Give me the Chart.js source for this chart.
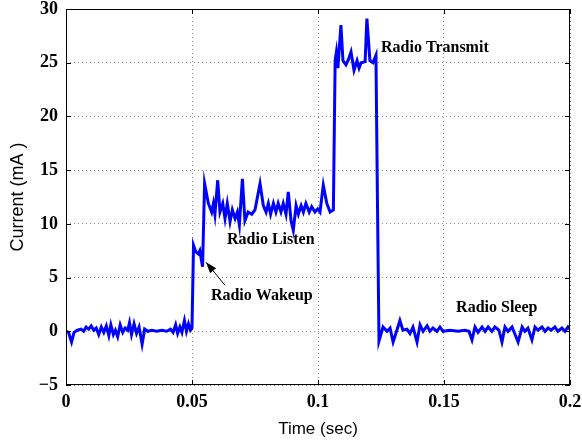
<!DOCTYPE html>
<html>
<head>
<meta charset="utf-8">
<script src="https://cdn.jsdelivr.net/npm/chart.js@4"></script>
<style>
  html, body { margin: 0; background: #fff; }
  #wrap { width: 582px; height: 445px; }
</style>
</head>
<body>
<div id="wrap"><canvas id="chart"></canvas></div>
<script>
// samples: time in ms, current in mA
const timeMs = [
  0, 1.0, 2.2, 3.2, 4.5, 6, 7, 8, 9, 10, 11, 12, 13, 14, 15, 16, 17, 17.8, 18.8, 19.6,
  20.5, 21.5, 22.5, 23.5, 24.5, 25.2, 26, 27, 28, 29, 30.2, 31.2, 32.5, 34, 36, 38, 40, 41.5, 42.5, 43.5,
  44.3, 45.2, 46, 47, 47.8, 48.6, 49.4, 50.0, 50.6, 51.5, 52.5, 53.1, 54.2, 54.5, 55.0, 56.5, 57.8, 58.5, 59.1, 60.2,
  61.1, 62.2, 63.1, 64.0, 65.1, 66.0, 67.1, 68.0, 68.8, 70.0, 71.0, 72.3, 73.7, 75.0, 77.0, 78.3, 79.4, 80.3, 81.2, 82.3,
  83.3, 84.2, 85.3, 86.2, 87.3, 88.2, 89.3, 90.2, 91.3, 92.2, 93.3, 94.2, 95.2, 96.5, 97.5, 98.8, 99.9, 100.8, 102.1, 103.5,
  104.8, 106.1, 106.8, 107.3, 107.9, 109.1, 109.9, 111.1, 112.1, 113.1, 114.3, 115.5, 116.3, 117.1, 118.7, 119.4, 120.6, 121.8, 123.0, 123.6,
  124.2, 125.8, 127.4, 128.6, 129.8, 131.3, 132.5, 133.7, 135.3, 136.5, 137.7, 139.3, 140.5, 141.7, 143.3, 144.4, 145.6, 147.2, 148.4, 149.6,
  152.4, 155.6, 158.3, 159.9, 161.1, 162.3, 163.5, 165.1, 166.3, 167.5, 169.0, 170.2, 171.8, 173.0, 174.2, 175.4, 177.0, 178.2, 179.4, 181.0,
  182.1, 183.3, 184.9, 186.1, 187.3, 188.9, 190.1, 191.3, 192.5, 194.0, 195.2, 196.8, 198.0, 199.2, 200
];
const currentMA = [
  0.0, -0.1, -1.0, -0.1, 0.1, 0.2, 0.0, 0.4, 0.2, 0.5, 0.1, 0.3, -0.3, 0.4, -0.1, 0.5, -0.4, 0.6, -0.3, 0.1,
  -0.5, 0.6, -0.1, 0.3, 0.1, 0.8, -0.3, 0.7, -0.2, 0.4, -1.2, 0.2, 0.0, 0.1, 0.0, 0.1, 0.0, 0.2, -0.1, 0.6,
  -0.2, 0.4, -0.1, 1.0, 0.0, 0.7, 0.1, 0.3, 8.0, 7.4, 7.2, 7.5, 6.0, 9.0, 13.75, 11.9, 11.1, 11.9, 10.9, 14.06,
  11.1, 11.9, 10.5, 11.9, 10.2, 11.3, 10.5, 11.1, 9.9, 14.2, 10.3, 11.1, 10.9, 11.3, 13.75, 11.7, 11.1, 11.9, 10.9, 11.9,
  11.1, 11.9, 11.1, 11.9, 10.9, 12.97, 10.3, 9.4, 11.7, 10.9, 11.7, 11.1, 11.9, 11.1, 11.6, 11.1, 11.4, 11.1, 13.6, 11.9,
  11.1, 11.3, 25.2, 26.0, 24.5, 28.5, 25.2, 24.8, 25.3, 26.0, 24.3, 25.2, 24.5, 25.0, 25.1, 29.1, 25.2, 25.0, 25.7, 12.0,
  -0.9, 0.4, 0.0, 0.3, -1.0, 0.1, 1.0, 0.1, 0.2, -0.2, 0.4, -1.0, 0.6, 0.0, 0.5, 0.0, 0.3, 0.0, 0.4, 0.0,
  0.1, 0.0, 0.1, 0.0, -0.8, 0.4, -0.1, 0.4, 0.0, 0.4, 0.0, 0.4, 0.1, -1.0, 0.4, 0.0, 0.4, -0.3, -1.0, 0.4,
  0.0, 0.3, -0.8, 0.4, 0.1, 0.4, 0.0, 0.3, 0.1, 0.4, 0.0, 0.3, 0.0, 0.4, 0.2
];
const xTicks = [0, 0.05, 0.1, 0.15, 0.2];
const xTickLabels = ["0", "0.05", "0.1", "0.15", "0.2"];
const yTicks = [-5, 0, 5, 10, 15, 20, 25, 30];
const yTickLabels = ["\u22125", "0", "5", "10", "15", "20", "25", "30"];

// text notes, anchored in data units (sec, mA): left edge, vertical middle
const notes = [
  { text: "Radio Transmit", t: 0.125, v: 26.4 },
  { text: "Radio Listen", t: 0.0639, v: 8.47 },
  { text: "Radio Wakeup", t: 0.0575, v: 3.26 },
  { text: "Radio Sleep", t: 0.1548, v: 2.14 }
];
const wakeArrow = { from: [0.0631, 4.28], to: [0.0556, 6.42] };

const points = timeMs.map((t, i) => ({ x: t / 1000, y: currentMA[i] }));

const serif = "'Liberation Serif', 'Times New Roman', serif";
const sans = "'Liberation Sans', Arial, sans-serif";

const frame = {
  id: "frame",
  afterDatasetsDraw(chart) {
    const ctx = chart.ctx;
    const a = chart.chartArea;
    const xs = chart.scales.x, ys = chart.scales.y;
    ctx.save();
    ctx.strokeStyle = "#000";
    ctx.lineWidth = 1;
    ctx.strokeRect(a.left + 0.5, a.top + 0.5, a.right - a.left - 1, a.bottom - a.top - 1);
    ctx.beginPath();
    xTicks.forEach(v => {
      const px = Math.round(xs.getPixelForValue(v)) + 0.5;
      ctx.moveTo(px, a.bottom); ctx.lineTo(px, a.bottom - 5);
      ctx.moveTo(px, a.top); ctx.lineTo(px, a.top + 5);
    });
    yTicks.forEach(v => {
      const py = Math.round(ys.getPixelForValue(v)) + 0.5;
      ctx.moveTo(a.left, py); ctx.lineTo(a.left + 5, py);
      ctx.moveTo(a.right, py); ctx.lineTo(a.right - 5, py);
    });
    ctx.stroke();

    ctx.fillStyle = "#000";
    ctx.font = "bold 16px " + serif;
    ctx.textBaseline = "middle";
    ctx.textAlign = "left";
    notes.forEach(n => {
      ctx.fillText(n.text, xs.getPixelForValue(n.t), ys.getPixelForValue(n.v));
    });

    const x1 = xs.getPixelForValue(wakeArrow.from[0]), y1 = ys.getPixelForValue(wakeArrow.from[1]);
    const x2 = xs.getPixelForValue(wakeArrow.to[0]), y2 = ys.getPixelForValue(wakeArrow.to[1]);
    const ang = Math.atan2(y2 - y1, x2 - x1);
    ctx.beginPath();
    ctx.moveTo(x1, y1); ctx.lineTo(x2, y2);
    ctx.stroke();
    ctx.beginPath();
    ctx.moveTo(x2, y2);
    ctx.lineTo(x2 - 11 * Math.cos(ang) + 4 * Math.sin(ang), y2 - 11 * Math.sin(ang) - 4 * Math.cos(ang));
    ctx.lineTo(x2 - 11 * Math.cos(ang) - 4 * Math.sin(ang), y2 - 11 * Math.sin(ang) + 4 * Math.cos(ang));
    ctx.closePath();
    ctx.fill();
    ctx.restore();
  }
};

new Chart(document.getElementById("chart"), {
  type: "line",
  data: {
    datasets: [{
      data: points,
      borderColor: "#0000ff",
      borderWidth: 3,
      pointRadius: 0,
      tension: 0,
      fill: false
    }]
  },
  options: {
    responsive: true,
    maintainAspectRatio: false,
    animation: false,
    layout: { padding: { top: 9, right: 12, left: 0, bottom: 0 } },
    plugins: { legend: { display: false }, tooltip: { enabled: false } },
    scales: {
      x: {
        type: "linear",
        min: 0,
        max: 0.2,
        afterBuildTicks: s => { s.ticks = xTicks.map(v => ({ value: v })); },
        afterFit: s => { s.height = 60; s.paddingLeft = 0; s.paddingRight = 0; },
        ticks: {
          color: "#000",
          padding: 7,
          maxRotation: 0,
          font: { family: serif, size: 18, weight: "bold" },
          callback: (v, i) => xTickLabels[i]
        },
        grid: { color: "#8c8c8c", drawTicks: false, lineWidth: 1 },
        border: { display: false, dash: [1, 3] },
        title: {
          display: true,
          text: "Time (sec)",
          color: "#000",
          font: { family: sans, size: 17 },
          padding: { top: 0, bottom: 5 }
        }
      },
      y: {
        min: -5,
        max: 30,
        afterBuildTicks: s => { s.ticks = yTicks.map(v => ({ value: v })); },
        afterFit: s => { s.width = 66; s.paddingTop = 0; s.paddingBottom = 0; },
        ticks: {
          color: "#000",
          padding: 8,
          font: { family: serif, size: 18, weight: "bold" },
          callback: (v, i) => yTickLabels[i]
        },
        grid: { color: "#8c8c8c", drawTicks: false, lineWidth: 1 },
        border: { display: false, dash: [1, 3] },
        title: {
          display: true,
          text: "Current (mA )",
          color: "#000",
          font: { family: sans, size: 18 },
          padding: { top: 7, bottom: 0 }
        }
      }
    }
  },
  plugins: [frame]
});
</script>
</body>
</html>
